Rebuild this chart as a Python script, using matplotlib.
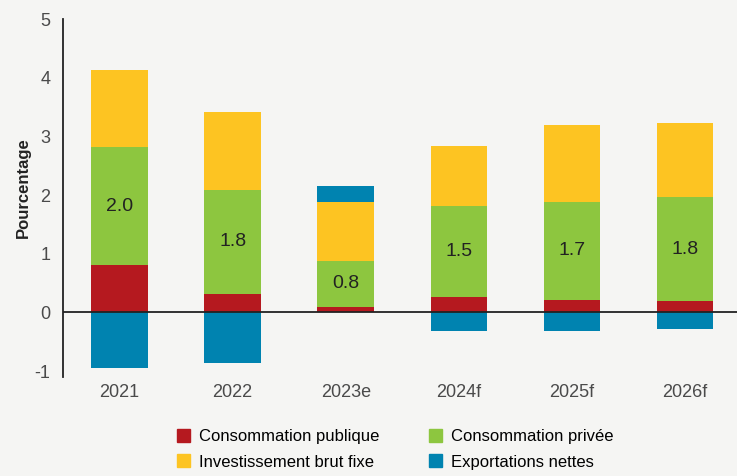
import matplotlib.pyplot as plt
import numpy as np
from matplotlib.patches import Patch

years = ['2021', '2022', '2023e', '2024f', '2025f', '2026f']
conso_publique = [0.80, 0.32, 0.10, 0.27, 0.22, 0.20]
conso_privee = [2.02, 1.77, 0.77, 1.54, 1.67, 1.76]
investissement = [1.31, 1.33, 1.02, 1.03, 1.31, 1.27]
exportations = [-0.95, -0.87, 0.27, -0.32, -0.31, -0.29]

c_red = '#B5191F'
c_green = '#8DC63F'
c_yellow = '#FDC422'
c_blue = '#0083B0'
bg = '#F5F5F3'

plt.rcParams['font.family'] = ['Liberation Sans', 'DejaVu Sans']
plt.rcParams['axes.unicode_minus'] = False

fig = plt.figure(figsize=(7.37, 4.76), dpi=100, facecolor=bg)
ax = fig.add_axes([0.0855, 0.208, 0.9145, 0.752], facecolor=bg)

x = np.arange(len(years))
w = 0.5
pub = np.array(conso_publique)
priv = np.array(conso_privee)
inv = np.array(investissement)
exp_ = np.array(exportations)

ax.bar(x, pub, w, color=c_red)
ax.bar(x, priv, w, bottom=pub, color=c_green)
ax.bar(x, inv, w, bottom=pub + priv, color=c_yellow)
# exports stack on top when positive, below zero otherwise
exp_bottom = np.where(exp_ > 0, pub + priv + inv, 0)
ax.bar(x, exp_, w, bottom=exp_bottom, color=c_blue)

for i in range(len(years)):
    ax.text(x[i], pub[i] + priv[i] / 2, f'{priv[i]:.1f}', ha='center', va='center',
            fontsize=14, color='#222222')

ax.axhline(0, color='#222222', lw=1.3)
ax.set_xlim(-0.5, 5.46)
ax.set_ylim(-1.1, 5.0)
ax.set_yticks(range(-1, 6))
ax.set_xticks(x)
ax.set_xticklabels(years)
ax.tick_params(length=0, labelsize=13, labelcolor='#4a4a4a')
ax.tick_params(axis='x', pad=5)
ax.tick_params(axis='y', pad=9)
for s in ['top', 'right', 'bottom']:
    ax.spines[s].set_visible(False)
ax.spines['left'].set_linewidth(1.3)
ax.spines['left'].set_color('#222222')
ax.set_ylabel('Pourcentage', fontsize=12, fontweight='bold', color='#222222')
ax.yaxis.set_label_coords(-0.047, 0.528)

handles = [Patch(color=c_red, label='Consommation publique'),
           Patch(color=c_yellow, label='Investissement brut fixe'),
           Patch(color=c_green, label='Consommation privée'),
           Patch(color=c_blue, label='Exportations nettes')]
fig.legend(handles=handles, ncol=2, loc='center', bbox_to_anchor=(0.536, 0.056),
           frameon=False, fontsize=12, handlelength=0.8, handleheight=0.8,
           handletextpad=0.5, columnspacing=3.0, labelspacing=0.6)

fig.savefig('out.png', dpi=100, facecolor=bg)
